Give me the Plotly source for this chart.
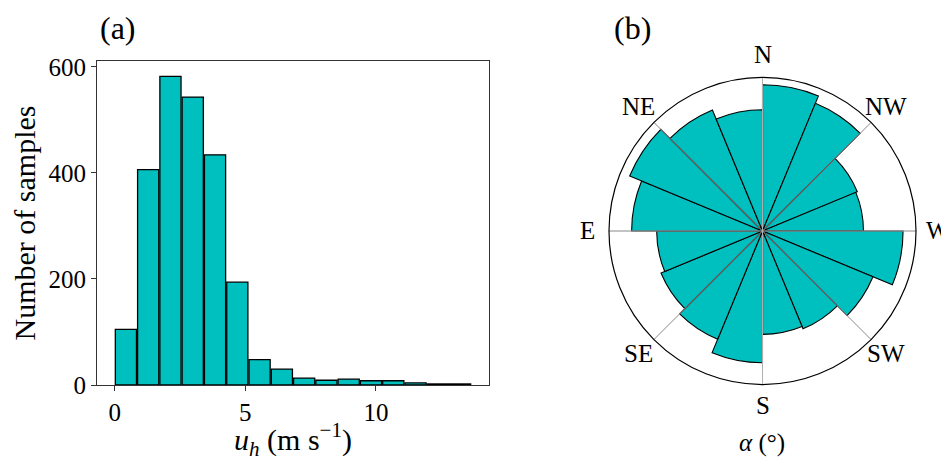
import math
import plotly.graph_objects as go

# ---- data: (a) histogram of horizontal wind speed ----
bin_edges = [0.0, 0.853, 1.706, 2.559, 3.413, 4.266, 5.119, 5.972, 6.825,
             7.678, 8.531, 9.384, 10.238, 11.091, 11.944, 12.797, 13.65]
counts = [105, 406, 582, 543, 434, 194, 48, 30, 13, 9, 11, 8, 8, 4, 2, 2]
y_ticks = [0, 200, 400, 600]
x_ticks = [0, 5, 10]

# ---- data: (b) wind rose ----
sector_centers = [11.25, 33.75, 56.25, 78.75, 101.25, 123.75, 146.25, 168.75,
                  191.25, 213.75, 236.25, 258.75, 281.25, 303.75, 326.25, 348.75]
sector_counts = [181, 171, 127, 125, 174, 148, 131, 128,
                 163, 145, 136, 131, 162, 178, 162, 150]
compass_angles = [0, 45, 90, 135, 180, 225, 270, 315]
compass_labels = ["N", "NW", "W", "SW", "S", "SE", "E", "NE"]
r_max = 190

FONT = "Liberation Serif"
CYAN = "#00BFBF"
GRID = "#b0b0b0"

centers = [(a + b) / 2 for a, b in zip(bin_edges[:-1], bin_edges[1:])]
widths = [0.95 * (b - a) for a, b in zip(bin_edges[:-1], bin_edges[1:])]

fig = go.Figure()
fig.add_trace(go.Bar(
    x=centers, y=counts, width=widths,
    marker=dict(color=CYAN, line=dict(color="black", width=1.3)),
    showlegend=False, hoverinfo="x+y",
))
fig.add_trace(go.Barpolar(
    r=sector_counts, theta=sector_centers, width=[22.5] * len(sector_counts),
    marker=dict(color=CYAN, line=dict(color="black", width=1.1)),
    showlegend=False, subplot="polar",
))
# compass grid spokes drawn on top of the bars (as in the reference)
spoke_r, spoke_t = [], []
for a in compass_angles:
    spoke_r += [0, r_max, None]
    spoke_t += [a, a, None]
fig.add_trace(go.Scatterpolar(
    r=spoke_r, theta=spoke_t, mode="lines",
    line=dict(color=GRID, width=1), hoverinfo="skip",
    showlegend=False, subplot="polar",
))

# the page body adds an 8 px margin; size the figure to fill the rest
OFF = 8
W, H = 949 - OFF, 461 - OFF


def px(x):
    return (x - OFF) / W


def py(y):
    return 1 - (y - OFF) / H


CX, CY, R = 762.5, 231.0, 153.5
LABEL_R = 175

annotations = [
    dict(text="(a)", x=px(118), y=py(28), xref="paper", yref="paper",
         showarrow=False, font=dict(size=32), xanchor="center", yanchor="middle"),
    dict(text="(b)", x=px(632), y=py(28), xref="paper", yref="paper",
         showarrow=False, font=dict(size=32), xanchor="center", yanchor="middle"),
    dict(text="<i>α</i> (°)", x=px(762), y=py(443), xref="paper", yref="paper",
         showarrow=False, font=dict(size=25), xanchor="center", yanchor="middle"),
]
for a, lab in zip(compass_angles, compass_labels):
    t = math.radians(a)
    annotations.append(dict(
        text=lab, x=px(CX + LABEL_R * math.sin(t)), y=py(CY - LABEL_R * math.cos(t) - 1),
        xref="paper", yref="paper", showarrow=False, font=dict(size=25),
        xanchor="center", yanchor="middle",
    ))

fig.update_layout(
    width=W, height=H,
    margin=dict(l=0, r=0, t=0, b=0, autoexpand=False),
    showlegend=False,
    paper_bgcolor="white", plot_bgcolor="white",
    font=dict(family=FONT, size=25, color="black"),
    xaxis=dict(
        domain=[px(97), px(489)], range=[-0.68, 14.33],
        tickvals=x_ticks, ticks="outside", ticklen=5, tickwidth=1, tickcolor="#333",
        showline=True, linecolor="#333", linewidth=1.2, mirror=True,
        showgrid=False, zeroline=False, automargin=False,
        title=dict(text="<i>u</i><sub><i>h</i></sub> (m s<sup>−1</sup>)", standoff=6),
        anchor="y",
    ),
    yaxis=dict(
        domain=[py(385), py(61)], range=[0, 611],
        tickvals=y_ticks, ticks="outside", ticklen=5, tickwidth=1, tickcolor="#333",
        showline=True, linecolor="#333", linewidth=1.2, mirror=True,
        showgrid=False, zeroline=False, automargin=False,
        title=dict(text="Number of samples", standoff=8),
        anchor="x",
    ),
    polar=dict(
        domain=dict(x=[px(CX - R), px(CX + R)], y=[py(CY + R), py(CY - R)]),
        bgcolor="white",
        radialaxis=dict(visible=False, range=[0, r_max]),
        angularaxis=dict(
            rotation=90, direction="clockwise",
            tickvals=compass_angles, showticklabels=False, ticks="",
            showgrid=True, gridcolor=GRID, gridwidth=1,
            showline=True, linecolor="black", linewidth=1.2,
        ),
        bargap=0,
    ),
    annotations=annotations,
)

fig.write_html("out.html")
